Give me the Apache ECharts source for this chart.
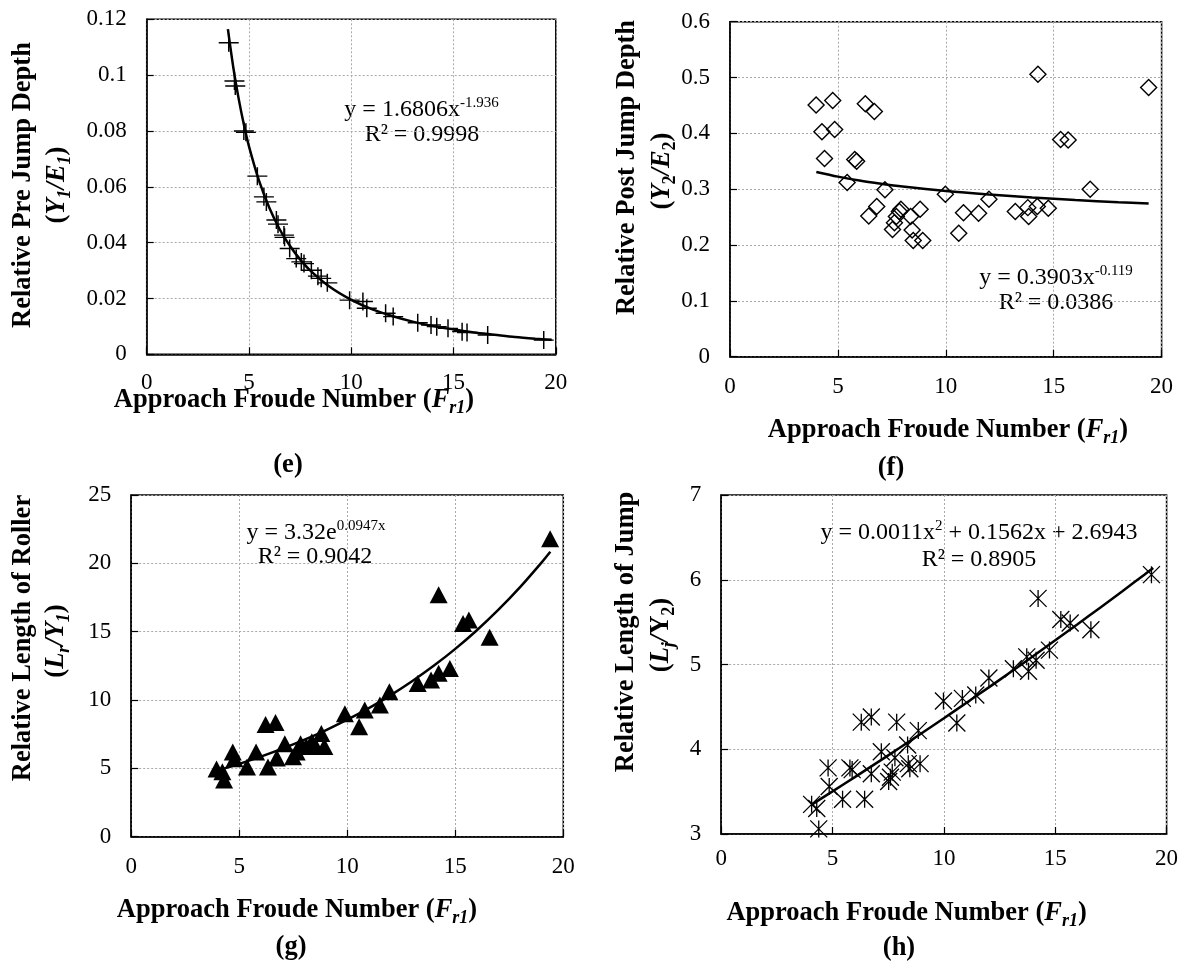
<!DOCTYPE html>
<html><head><meta charset="utf-8">
<script src="https://cdn.jsdelivr.net/npm/echarts@6/dist/echarts.min.js"></script>
<style>html,body{margin:0;padding:0;background:#fff}#c{width:1185px;height:961px}</style>
</head><body><div id="c"></div>
<script>
// ---------- data ----------
const xTicks = [0, 5, 10, 15, 20];

// (e) Relative pre jump depth
const froudeE = [4.01,4.29,4.33,4.75,4.85,5.41,5.73,5.85,6.34,6.42,6.71,6.74,6.99,7.31,7.56,7.69,8.05,8.37,8.53,8.83,9.92,10.57,10.76,11.68,12.05,13.25,13.9,14.18,14.73,15.42,15.66,16.67,19.41];
const preDepth = [0.1116,0.0979,0.0961,0.0800,0.0795,0.0638,0.0564,0.0546,0.0481,0.0466,0.0427,0.0419,0.0379,0.0343,0.0331,0.0325,0.0301,0.0280,0.0272,0.0256,0.0194,0.0189,0.0165,0.0147,0.0135,0.0113,0.0105,0.0099,0.0093,0.0081,0.0078,0.0069,0.0051];
const trendXE = [3.97,4.25,4.5,4.75,5,5.5,6,6.5,7,7.5,8,9,10,11,12,13,14,15,16,17,18,19,19.8];
const trendYE = [0.1165,0.1020,0.0914,0.0823,0.0745,0.0620,0.0524,0.0448,0.0389,0.0340,0.0300,0.0239,0.0195,0.0162,0.0137,0.0117,0.0101,0.0089,0.0078,0.0070,0.0062,0.0056,0.0052];

// (f) Relative post jump depth
const froudeF = [3.99,4.26,4.38,4.76,4.85,5.43,5.78,5.87,6.27,6.43,6.69,6.8,7.18,7.53,7.62,7.71,7.85,7.92,8.37,8.44,8.49,8.81,8.93,9.98,10.6,10.82,11.52,12.0,13.22,13.8,13.84,14.24,14.27,14.75,15.32,15.67,16.69,19.4];
const postDepth = [0.451,0.403,0.355,0.459,0.407,0.312,0.353,0.350,0.453,0.252,0.439,0.269,0.299,0.228,0.240,0.251,0.260,0.264,0.251,0.227,0.208,0.264,0.208,0.291,0.221,0.258,0.257,0.282,0.260,0.267,0.251,0.269,0.506,0.266,0.389,0.388,0.300,0.482];
const trendXF = [4,5,6,7,8,10,12,14,16,18,19.4];
const trendYF = [0.3309,0.3225,0.3154,0.3097,0.3047,0.2967,0.2904,0.2851,0.2806,0.2767,0.2743];

// (g) Relative length of roller
const froudeG = [3.95,4.22,4.3,4.7,4.78,5.36,5.78,6.22,6.33,6.68,6.74,7.11,7.49,7.66,7.84,8.1,8.36,8.54,8.8,8.94,9.89,10.55,10.81,11.51,11.95,13.26,13.88,14.23,14.23,14.75,15.36,15.63,16.59,19.39];
const rollerLen = [4.95,4.76,4.15,6.2,5.7,5.1,6.2,8.2,5.1,8.35,5.75,6.8,5.85,6.2,6.8,6.6,6.95,6.6,7.55,6.6,9.0,8.05,9.27,9.63,10.6,11.2,11.46,11.95,17.7,12.3,15.6,15.85,14.6,21.8];
const trendXG = [4,5,6,7,8,9,10,11,12,13,14,15,16,17,18,19,19.4];
const trendYG = [4.849,5.331,5.861,6.442,7.082,7.785,8.559,9.409,10.343,11.371,12.500,13.742,15.107,16.608,18.258,20.071,20.847];

// (h) Relative length of jump
const froudeH = [4.06,4.29,4.38,4.8,4.85,5.45,5.78,5.88,6.29,6.44,6.74,6.74,7.19,7.52,7.6,7.68,7.8,7.88,8.37,8.4,8.47,8.85,8.93,9.98,10.58,10.83,11.43,12.02,13.12,13.72,13.8,14.14,14.23,14.74,15.25,15.67,16.6,19.32];
const jumpLen = [3.35,3.30,3.06,3.78,3.56,3.41,3.78,3.76,4.32,3.41,4.38,3.71,3.97,3.62,3.67,3.73,3.90,4.32,4.05,3.83,3.77,4.22,3.83,4.57,4.31,4.60,4.64,4.84,4.95,5.09,4.92,5.05,5.78,5.17,5.53,5.49,5.41,6.06];
const trendXH = [4.1,5,6,7,8,9,10,11,12,13,14,15,16,17,18,19,19.4];
const trendYH = [3.353,3.503,3.671,3.842,4.014,4.189,4.366,4.546,4.727,4.911,5.097,5.285,5.475,5.668,5.862,6.059,6.139];

// ---------- styling ----------
const FONT = "'Liberation Serif','Times New Roman',serif";
const pairs = (xs, ys) => xs.map((x, i) => [x, ys[i]]);

const grids = [
  {left: 146.7, top: 19.3, width: 409.1, height: 335},
  {left: 730, top: 21.7, width: 431.6, height: 335},
  {left: 131.2, top: 495, width: 432.1, height: 341.7},
  {left: 721.2, top: 495, width: 445.4, height: 339}
].map(g => Object.assign(g, {show: true, borderColor: '#000', borderWidth: 1.5, backgroundColor: 'transparent', containLabel: false}));

const yRanges = [
  {min: 0, max: 0.12, interval: 0.02},
  {min: 0, max: 0.6, interval: 0.1},
  {min: 0, max: 25, interval: 5},
  {min: 3, max: 7, interval: 1}
];
const xMargins = [17, 19, 19, 13];

const axisCommon = {
  axisLine: {show: true, onZero: false, lineStyle: {color: '#000', width: 1.5}},
  axisTick: {show: true, inside: true, length: 7, lineStyle: {color: '#000', width: 1.2}},
  splitLine: {show: true, lineStyle: {color: '#aaa', width: 1, type: [2, 2]}},
  axisLabel: {color: '#000', fontFamily: FONT, fontSize: 23}
};

const xAxes = grids.map((g, i) => echarts.util.merge({
  type: 'value', gridIndex: i, min: xTicks[0], max: xTicks[xTicks.length - 1], interval: xTicks[1] - xTicks[0],
  axisLabel: {margin: xMargins[i]}
}, axisCommon, false));
const yAxes = grids.map((g, i) => echarts.util.merge({
  type: 'value', gridIndex: i, min: yRanges[i].min, max: yRanges[i].max, interval: yRanges[i].interval,
  axisLabel: {margin: 20}
}, axisCommon, false));

const trend = (i, xs, ys) => ({
  type: 'line', xAxisIndex: i, yAxisIndex: i, data: pairs(xs, ys), symbol: 'none',
  smooth: 0.3, lineStyle: {color: '#000', width: 2.5}, z: 5, silent: true
});

const series = [
  {type: 'scatter', xAxisIndex: 0, yAxisIndex: 0, data: pairs(froudeE, preDepth),
   symbol: 'path://M-1,0L1,0M0,-1L0,1', symbolSize: [20, 18],
   itemStyle: {color: 'transparent', borderColor: '#000', borderWidth: 1.4, opacity: 1}, z: 3},
  trend(0, trendXE, trendYE),
  {type: 'scatter', xAxisIndex: 1, yAxisIndex: 1, data: pairs(froudeF, postDepth),
   symbol: 'diamond', symbolSize: 16,
   itemStyle: {color: 'transparent', borderColor: '#000', borderWidth: 1.4, opacity: 1}, z: 3},
  trend(1, trendXF, trendYF),
  {type: 'scatter', xAxisIndex: 2, yAxisIndex: 2, data: pairs(froudeG, rollerLen),
   symbol: 'triangle', symbolSize: [18, 17],
   itemStyle: {color: '#000', opacity: 1}, z: 3},
  trend(2, trendXG, trendYG),
  {type: 'scatter', xAxisIndex: 3, yAxisIndex: 3, data: pairs(froudeH, jumpLen),
   symbol: 'path://M-1,-1L1,1M-1,1L1,-1M0,-1L0,1', symbolSize: 17,
   itemStyle: {color: 'transparent', borderColor: '#000', borderWidth: 1.3, opacity: 1}, z: 3},
  trend(3, trendXH, trendYH)
];

// ---------- text ----------
const TS = 26.5;
const richT = {
  b:   {fontFamily: FONT, fontWeight: 'bold', fontSize: TS, lineHeight: 32, fill: '#000'},
  bi:  {fontFamily: FONT, fontWeight: 'bold', fontStyle: 'italic', fontSize: TS, lineHeight: 32, fill: '#000'},
  bs:  {fontFamily: FONT, fontWeight: 'bold', fontSize: 18, padding: [17, 0, 0, 0], fill: '#000'},
  bis: {fontFamily: FONT, fontWeight: 'bold', fontStyle: 'italic', fontSize: 18, padding: [17, 0, 0, 0], fill: '#000'}
};
const richE = {
  r: {fontFamily: FONT, fontSize: 24, lineHeight: 28, fill: '#000'},
  s: {fontFamily: FONT, fontSize: 15, padding: [0, 0, 13, 0], fill: '#000'}
};

function richText(text, x, y, rich, rot) {
  return {type: 'text', x: x, y: y, rotation: rot || 0, silent: true,
    style: {text: text, rich: rich, align: 'center', textAlign: 'center', verticalAlign: 'middle', textVerticalAlign: 'middle'}};
}
function plainBold(text, x, y, rot) {
  return {type: 'text', x: x, y: y, rotation: rot || 0, silent: true,
    style: {text: text, font: "bold " + TS + "px " + FONT, fill: '#000', align: 'center', textAlign: 'center', verticalAlign: 'middle', textVerticalAlign: 'middle'}};
}
const R = Math.PI / 2;
const xTitle = '{b|Approach Froude Number (}{bi|F}{bis|r1}{b|)}';

const graphics = [
  // (e)
  richText(xTitle, 294, 400, richT),
  plainBold('(e)', 288, 465),
  plainBold('Relative Pre Jump Depth', 22.7, 185, R),
  richText('{b|(}{bi|Y}{bis|1}{bi|/E}{bis|1}{b|)}', 57, 185, richT, R),
  richText('{r|y = 1.6806x}{s|-1.936}', 421.5, 110, richE),
  richText('{r|R² = 0.9998}', 422, 135, richE),
  // (f)
  richText(xTitle, 948, 430, richT),
  plainBold('(f)', 891, 468),
  plainBold('Relative Post Jump Depth', 627, 167.5, R),
  richText('{b|(}{bi|Y}{bs|2}{bi|/E}{bs|2}{b|)}', 662, 171, richT, R),
  richText('{r|y = 0.3903x}{s|-0.119}', 1056, 278, richE),
  richText('{r|R² = 0.0386}', 1056, 303, richE),
  // (g)
  richText(xTitle, 297, 910, richT),
  plainBold('(g)', 291, 947),
  plainBold('Relative Length of Roller', 22.7, 638, R),
  richText('{b|(}{bi|L}{bis|r}{bi|/Y}{bis|1}{b|)}', 55.7, 641, richT, R),
  richText('{r|y = 3.32e}{s|0.0947x}', 316, 533, richE),
  richText('{r|R² = 0.9042}', 315, 557, richE),
  // (h)
  richText(xTitle, 906.6, 913, richT),
  plainBold('(h)', 899, 948),
  plainBold('Relative Length of Jump', 626, 632, R),
  richText('{b|(}{bi|L}{bis|j}{bi|/}{b|Y}{bs|2}{b|)}', 661, 635, richT, R),
  richText('{r|y = 0.0011x}{s|2}{r| + 0.1562x + 2.6943}', 979, 533, richE),
  richText('{r|R² = 0.8905}', 979, 560, richE)
];

const chart = echarts.init(document.getElementById('c'), null, {renderer: 'canvas'});
chart.setOption({
  animation: false,
  backgroundColor: '#fff',
  grid: grids,
  xAxis: xAxes,
  yAxis: yAxes,
  series: series,
  graphic: {elements: graphics}
});
</script>
</body></html>
